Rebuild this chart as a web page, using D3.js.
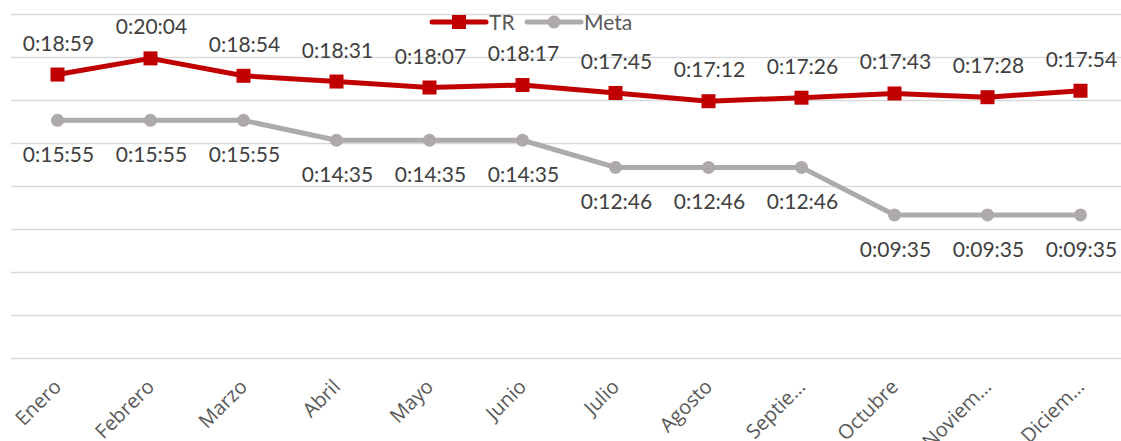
<!DOCTYPE html>
<html>
<head>
<meta charset="utf-8">
<script src="https://cdn.jsdelivr.net/npm/d3@7"></script>
<style>
  html, body { margin: 0; padding: 0; background: #fff; }
  svg { display: block; }
</style>
</head>
<body>
<svg id="chart" width="1121" height="441"></svg>
<script>
// Monthly attention time (h:mm:ss) against the monthly target
const months = ["Enero", "Febrero", "Marzo", "Abril", "Mayo", "Junio",
                "Julio", "Agosto", "Septie…", "Octubre", "Noviem…", "Diciem…"];
const trValues = ["0:18:59", "0:20:04", "0:18:54", "0:18:31", "0:18:07", "0:18:17",
                  "0:17:45", "0:17:12", "0:17:26", "0:17:43", "0:17:28", "0:17:54"];
const metaValues = ["0:15:55", "0:15:55", "0:15:55", "0:14:35", "0:14:35", "0:14:35",
                    "0:12:46", "0:12:46", "0:12:46", "0:09:35", "0:09:35", "0:09:35"];
const seriesNames = ["TR", "Meta"];

// Value axis in days, as a spreadsheet time axis: 0 to 0.016 by 0.002
const axisMaxDays = 0.016;
const axisStepDays = 0.002;

(function drawChart() {
  const toSeconds = s => s.split(":").reduce((acc, p) => acc * 60 + (+p), 0);

  const svg = d3.select("#chart");
  const plotLeft = 11, plotRight = 1127, plotTop = 14, plotBottom = 358;

  const x = d3.scaleBand().domain(months).range([plotLeft, plotRight]);
  const y = d3.scaleLinear().domain([0, axisMaxDays * 86400]).range([plotBottom, plotTop]);

  const colors = { TR: "#C00000", Meta: "#AEAAAA" };
  const labelColor = "#404040";

  // Horizontal gridlines
  const gridTicks = d3.range(0, axisMaxDays + 1e-9, axisStepDays).map(d => d * 86400);
  svg.append("g").selectAll("line").data(gridTicks).join("line")
    .attr("x1", plotLeft).attr("x2", 1121)
    .attr("y1", d => Math.round(y(d)) + 0.5).attr("y2", d => Math.round(y(d)) + 0.5)
    .attr("stroke", "#D9D9D9").attr("stroke-width", 1.5);

  // Category axis labels, rotated
  const xAxis = d3.axisBottom(x).tickSize(0).tickPadding(0);
  const gx = svg.append("g").attr("transform", `translate(0,${plotBottom})`).call(xAxis);
  gx.attr("font-family", "'Open Sans', sans-serif");
  gx.select(".domain").remove();
  gx.selectAll(".tick text")
    .attr("font-family", "'Open Sans', sans-serif")
    .attr("font-size", 20)
    .attr("fill", "#595959")
    .attr("text-anchor", "end")
    .attr("dy", 0)
    .attr("transform", "translate(5,30) rotate(-45)");

  const cx = m => x(m) + x.bandwidth() / 2;
  const series = [
    { name: "TR", values: trValues },
    { name: "Meta", values: metaValues }
  ];

  const line = d3.line().x(d => cx(d.m)).y(d => y(d.v));

  series.forEach(s => {
    const pts = s.values.map((t, i) => ({ m: months[i], t, v: toSeconds(t) }));
    const g = svg.append("g");
    g.append("path").datum(pts)
      .attr("d", line)
      .attr("fill", "none")
      .attr("stroke", colors[s.name])
      .attr("stroke-width", 5)
      .attr("stroke-linejoin", "round");
    if (s.name === "TR") {
      g.selectAll("rect").data(pts).join("rect")
        .attr("x", d => cx(d.m) - 7).attr("y", d => y(d.v) - 7)
        .attr("width", 14).attr("height", 14)
        .attr("fill", colors.TR);
    } else {
      g.selectAll("circle").data(pts).join("circle")
        .attr("cx", d => cx(d.m)).attr("cy", d => y(d.v))
        .attr("r", 6.5)
        .attr("fill", colors.Meta);
    }
    g.selectAll("text").data(pts).join("text")
      .attr("x", d => cx(d.m) + 1)
      .attr("y", d => y(d.v) + (s.name === "TR" ? -24 : 42))
      .attr("text-anchor", "middle")
      .attr("font-family", "Lato, sans-serif")
      .attr("font-size", 21)
      .attr("fill", labelColor)
      .text(d => d.t);
  });

  // Legend
  const legend = svg.append("g").attr("font-family", "Lato, sans-serif").attr("font-size", 21);
  const legendItems = [
    { name: seriesNames[0], x0: 432 },
    { name: seriesNames[1], x0: 527 }
  ];
  legendItems.forEach(it => {
    const ly = 22;
    legend.append("line")
      .attr("x1", it.x0).attr("x2", it.x0 + 54)
      .attr("y1", ly).attr("y2", ly)
      .attr("stroke", colors[it.name]).attr("stroke-width", 5)
      .attr("stroke-linecap", "round");
    if (it.name === "TR") {
      legend.append("rect").attr("x", it.x0 + 27 - 7).attr("y", ly - 7)
        .attr("width", 14).attr("height", 14).attr("fill", colors.TR);
    } else {
      legend.append("circle").attr("cx", it.x0 + 27).attr("cy", ly).attr("r", 6.5)
        .attr("fill", colors.Meta);
    }
    legend.append("text").attr("x", it.x0 + 57).attr("y", ly + 7.5)
      .attr("fill", "#595959").text(it.name);
  });
})();
</script>
</body>
</html>
